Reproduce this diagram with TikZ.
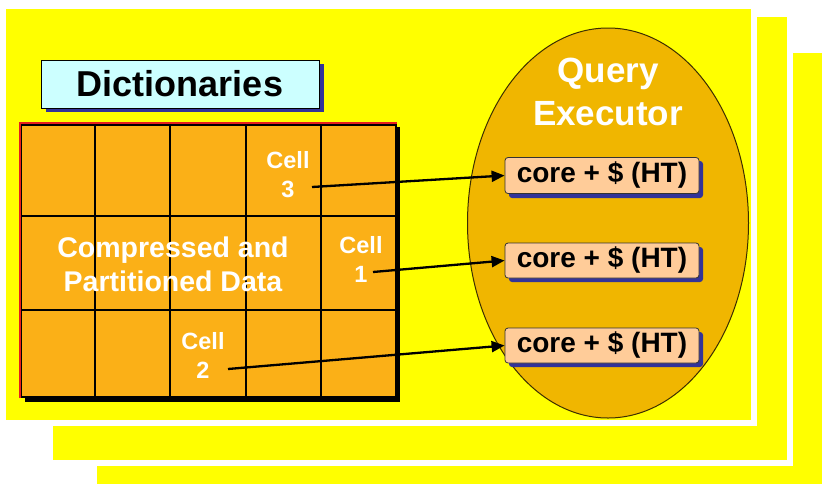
\documentclass[tikz,border=0pt]{standalone}
\usepackage{fontspec}
\setmainfont{Liberation Sans}
\usetikzlibrary{arrows.meta,shapes.geometric}
\definecolor{bgyellow}{RGB}{255,255,0}
\definecolor{gridorange}{RGB}{251,176,23}
\definecolor{ellgold}{RGB}{240,182,0}
\definecolor{peach}{RGB}{255,204,153}
\definecolor{dictcyan}{RGB}{204,255,255}
\definecolor{shadownavy}{RGB}{51,51,153}
\definecolor{redline}{RGB}{230,30,30}
\tikzset{
  panel/.style={fill=bgyellow, draw=white, line width=6pt},
  corebox/.style={draw=black!80, fill=peach, rounded corners=3pt, line width=0.8pt,
    minimum width=194pt, minimum height=36pt, inner sep=0pt,
    font=\bfseries\fontsize{28}{30}\selectfont},
  coreshadow/.style={fill=shadownavy, rounded corners=3pt},
  celllabel/.style={text=white, align=center, font=\bfseries\fontsize{23.5}{29}\selectfont, inner sep=0pt},
  gridline/.style={line width=1.3pt, draw=black},
  conn/.style={line width=2.3pt, -{Triangle[length=13pt,width=11pt]}}
}
\begin{document}
\begin{tikzpicture}[x=1pt,y=-1pt]
\useasboundingbox (0,0) rectangle (822,483);
\clip (0,0) rectangle (822,483);
% stacked panels
\path[panel] (94,50) rectangle (840,500);
\path[panel] (50,14) rectangle (790,463);
\path[panel] (3,6) rectangle (754,423);
% Dictionaries
\fill[shadownavy] (46,64) rectangle (324,112);
\node[draw=black, line width=1pt, fill=dictcyan, minimum width=278pt, minimum height=48pt, inner sep=0pt,
  font=\bfseries\fontsize{36}{40}\selectfont] (dict) at (180,84) {Dictionaries};
% grid
\fill[black] (25,127) rectangle (400,402);
\fill[gridorange] (21,124) rectangle (396,397);
\draw[gridline] (95,124) -- (95,397) (170,124) -- (170,397) (246,124) -- (246,397) (321,124) -- (321,397);
\draw[gridline] (21,216) -- (396,216) (21,310) -- (396,310);
\draw[line width=2.5pt] (21,125) rectangle (396,397);
\draw[redline, line width=1.5pt] (20,398) -- (20,123) -- (397,123);
\node[text=white, align=center, font=\bfseries\fontsize{28.5}{34}\selectfont, inner sep=0pt] (data) at (173,264) {Compressed and\\Partitioned Data};
\node[celllabel] (cell3) at (288,175) {Cell\\3};
\node[celllabel] (cell1) at (361,259) {Cell\\1};
\node[celllabel] (cell2) at (203,355) {Cell\\2};
% Query executor
\node[ellipse, draw=black!75!ellgold, line width=1pt, fill=ellgold, minimum width=281pt, minimum height=390pt, inner sep=0pt] (qe) at (608,223) {};
\node[text=white, align=center, font=\bfseries\fontsize{35}{43}\selectfont, inner sep=0pt] (qtitle) at (608,92) {Query\\Executor};
\fill[coreshadow] (509,161) rectangle (703,198);
\fill[coreshadow] (509,247) rectangle (703,282);
\fill[coreshadow] (509,332) rectangle (703,367);
\node[corebox] (core1) at (602,175.5) {core + \$ (HT)};
\node[corebox, minimum height=35pt] (core2) at (602,260.5) {core + \$ (HT)};
\node[corebox, minimum height=35pt] (core3) at (602,345.5) {core + \$ (HT)};
% connectors
\coordinate (s3) at (312,187);
\coordinate (s1) at (373,272);
\coordinate (s2) at (228,369);
\draw[conn] (s3) -- (core1.west);
\draw[conn] (s1) -- (core2.west);
\draw[conn] (s2) -- (core3.west);
\end{tikzpicture}
\end{document}
